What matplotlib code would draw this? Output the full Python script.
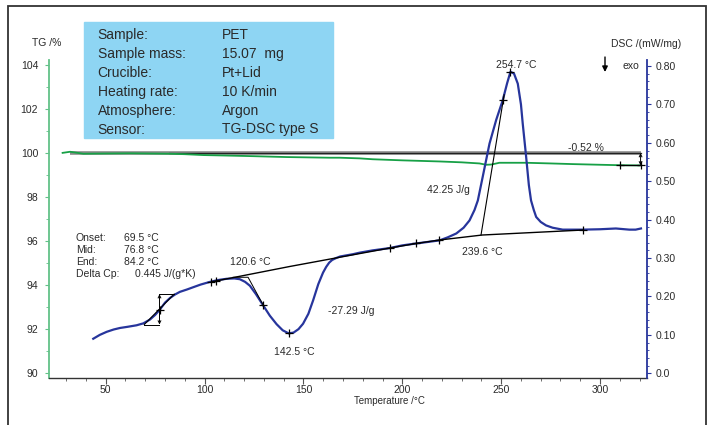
import matplotlib
matplotlib.use("Agg")
import matplotlib.pyplot as plt
from matplotlib.patches import Rectangle
from matplotlib.ticker import MultipleLocator

plt.rcParams['font.family'] = ['Liberation Sans', 'DejaVu Sans']

# --- data ---
dsc_temp = [43.7, 47, 50.5, 54, 57.2, 61, 65.6, 69, 72.4, 75, 77.4, 80, 82.5, 85, 87.5,
            91, 94.2, 98, 102.7, 107, 111.1, 115, 117.8, 120.5, 122.9, 126, 129.6, 133,
            136.4, 139.5, 142.5, 145, 147.5, 149.8, 152.5, 154.9, 157.5, 159.9, 161.5,
            163, 164.5, 166.5, 168.5, 171.7, 175, 178.4, 185, 193.6, 200, 207, 213, 218.8,
            223, 227.3, 231, 234, 236.5, 238.2, 241, 244.1, 247.5, 250.8, 253, 254.7,
            256.5, 258.4, 260, 260.9, 262.5, 264, 265.1, 266.5, 267.7, 270, 272.7, 276,
            281.1, 291.2, 300, 308, 314.8, 318, 320.7]
dsc_val = [0.090, 0.100, 0.108, 0.114, 0.118, 0.121, 0.125, 0.130, 0.140, 0.152, 0.166,
           0.184, 0.196, 0.205, 0.212, 0.218, 0.224, 0.231, 0.238, 0.243, 0.246, 0.247,
           0.245, 0.238, 0.228, 0.206, 0.177, 0.150, 0.128, 0.112, 0.104, 0.106, 0.115,
           0.129, 0.155, 0.190, 0.232, 0.262, 0.277, 0.288, 0.295, 0.300, 0.304, 0.307,
           0.310, 0.314, 0.320, 0.326, 0.333, 0.338, 0.342, 0.346, 0.354, 0.364, 0.379,
           0.398, 0.425, 0.450, 0.520, 0.598, 0.660, 0.711, 0.755, 0.785, 0.780, 0.754,
           0.700, 0.650, 0.570, 0.490, 0.450, 0.425, 0.407, 0.394, 0.385, 0.379, 0.374,
           0.374, 0.375, 0.377, 0.374, 0.374, 0.377]

tg_temp = [28.2, 32, 35, 38.7, 50, 62.3, 72, 82.5, 90, 99.3, 110, 124.5, 141.4, 163.3,
           168.3, 178.4, 185, 200, 218.8, 230, 239, 242.4, 245, 249.1, 262.6, 275, 286.2,
           300, 309.8, 319.9]
tg_val = [100.01, 100.06, 100.02, 99.97, 99.98, 99.99, 99.98, 99.97, 99.95, 99.91, 99.89,
          99.86, 99.82, 99.79, 99.79, 99.76, 99.72, 99.67, 99.62, 99.58, 99.53, 99.47,
          99.48, 99.56, 99.56, 99.53, 99.50, 99.47, 99.45, 99.44]

# evaluation baselines / tangents (DSC)
base_temp = [103.4, 143, 183, 193.6, 207, 218.8, 240.4, 291.5]
base_val = [0.238, 0.278, 0.316, 0.326, 0.338, 0.347, 0.360, 0.373]
cryst_tan_temp = [114.4, 122, 129.6]
cryst_tan_val = [0.250, 0.250, 0.178]
melt_tan_temp = [239.8, 251.5]
melt_tan_val = [0.360, 0.725]
glass_low = [69.5, 77.2, 0.127]
glass_high = [77.2, 84.6, 0.206]
glass_tan_temp = [69.5, 84.6]
glass_tan_val = [0.127, 0.206]

dsc_marks_t = [77.3, 103.4, 105.7, 129.6, 142.6, 193.6, 207, 218.8, 250.8, 254.7, 291.5]
dsc_marks_v = [0.166, 0.238, 0.241, 0.177, 0.104, 0.326, 0.338, 0.346, 0.711, 0.785, 0.373]
tg_marks_t = [310, 320.5]
tg_marks_v = [99.44, 99.44]

info_labels = ["Sample:", "Sample mass:", "Crucible:", "Heating rate:", "Atmosphere:", "Sensor:"]
info_values = ["PET", "15.07  mg", "Pt+Lid", "10 K/min", "Argon", "TG-DSC type S"]
gt_labels = ["Onset:", "Mid:", "End:", "Delta Cp:"]
gt_values = ["69.5 °C", "76.8 °C", "84.2 °C", "0.445 J/(g*K)"]

W, H = 709, 425
GREEN = "#17a046"
BLUE = "#27359c"
TXT = "#2a2a2a"


def px(x, y):
    """pixel position (from top-left) -> figure fraction"""
    return x / W, 1 - y / H


fig = plt.figure(figsize=(W / 100, H / 100), dpi=100)
l, b = px(49.3, 378.3)
r, t = px(647.3, 60)
ax = fig.add_axes([l, b, r - l, t - b])
ax2 = ax.twinx()
ax.patch.set_visible(False)
ax2.patch.set_visible(False)

# outer frame
fig.add_artist(Rectangle(px(8, 440), (706 - 8) / W, (440 - 6) / H,
                         transform=fig.transFigure, fill=False, lw=1.3, ec="#333333"))

# TG axis
ax.set_xlim(21.47, 323.9)
ax.set_ylim(89.773, 104.227)
ax.yaxis.set_major_locator(MultipleLocator(2))
ax.yaxis.set_minor_locator(MultipleLocator(1))
ax.xaxis.set_major_locator(MultipleLocator(50))
ax.xaxis.set_minor_locator(MultipleLocator(10))
for s in ["top", "right"]:
    ax.spines[s].set_visible(False)
ax.spines["left"].set_color("#62c288")
ax.spines["left"].set_linewidth(1.3)
ax.spines["bottom"].set_color("#333333")
ax.spines["bottom"].set_linewidth(1.0)
ax.tick_params(axis="y", which="both", direction="out", colors="#62c288",
               labelcolor=TXT, labelsize=7.5, pad=5)
ax.tick_params(axis="y", which="major", length=3)
ax.tick_params(axis="y", which="minor", length=2)
ax.tick_params(axis="x", which="major", length=4, labelsize=7.5, colors="#555555",
               labelcolor=TXT, pad=1)
ax.tick_params(axis="x", which="minor", length=2.5, colors="#555555")

# DSC axis
ax2.set_ylim(-0.0130, 0.8156)
ax2.yaxis.set_minor_locator(MultipleLocator(0.02))
for s in ["top", "left", "bottom"]:
    ax2.spines[s].set_visible(False)
ax2.spines["right"].set_color(BLUE)
ax2.spines["right"].set_linewidth(1.3)
ax2.tick_params(axis="y", which="both", direction="out", colors=BLUE,
                labelcolor=TXT, labelsize=7.5, pad=3)
ax2.tick_params(axis="y", which="major", length=3)
ax2.tick_params(axis="y", which="minor", length=1.5)
ax2.set_yticks([0.0] + [round(0.1 * i, 1) for i in range(1, 9)])
ax2.set_yticklabels(["0.0"] + ["%.2f" % (0.1 * i) for i in range(1, 9)])

# TG curve and mass step
ax.plot([32, 320.5], [100, 100], color="#8a8a8a", lw=2.6, solid_capstyle="butt")
ax.plot([82, 320.5], [100, 100], color="#222222", lw=0.9)
ax.plot(tg_temp, tg_val, color=GREEN, lw=1.3)
ax.plot([310, 320.5], [99.44, 99.44], color="black", lw=0.9)
ax.plot(tg_marks_t, tg_marks_v, "k+", ms=6, mew=0.9)
ax.annotate("", xy=(320.5, 99.44), xytext=(320.5, 100.0),
            arrowprops=dict(arrowstyle="<->", lw=0.7, color="black",
                            mutation_scale=5, shrinkA=0, shrinkB=0))

# DSC curve and evaluations
ax2.plot(dsc_temp, dsc_val, color=BLUE, lw=1.6, zorder=3)
ax2.plot(base_temp, base_val, color="black", lw=1.0, zorder=4)
ax2.plot(cryst_tan_temp, cryst_tan_val, color="black", lw=0.7, zorder=4)
ax2.plot(melt_tan_temp, melt_tan_val, color="black", lw=0.8, zorder=4)
ax2.plot(glass_low[:2], [glass_low[2]] * 2, color="black", lw=0.7, zorder=4)
ax2.plot(glass_high[:2], [glass_high[2]] * 2, color="black", lw=0.7, zorder=4)
ax2.plot(glass_tan_temp, glass_tan_val, color="black", lw=0.8, zorder=4)
ax2.annotate("", xy=(77.2, glass_low[2]), xytext=(77.2, glass_high[2]),
             arrowprops=dict(arrowstyle="<->", lw=0.7, color="black",
                             mutation_scale=5, shrinkA=0, shrinkB=0))
ax2.plot(dsc_marks_t, dsc_marks_v, "k+", ms=6, mew=0.9, zorder=5)

fs = 7.5
ax2.text(257.5, 0.803, "254.7 °C", ha="center", va="center", fontsize=fs, color=TXT)
ax2.text(292.9, 0.587, "-0.52 %", ha="center", va="center", fontsize=fs, color=TXT)
ax2.text(223.1, 0.477, "42.25 J/g", ha="center", va="center", fontsize=fs, color=TXT)
ax2.text(240.3, 0.316, "239.6 °C", ha="center", va="center", fontsize=fs, color=TXT)
ax2.text(174.1, 0.162, "-27.29 J/g", ha="center", va="center", fontsize=fs, color=TXT)
ax2.text(145.2, 0.055, "142.5 °C", ha="center", va="center", fontsize=fs, color=TXT)
ax2.text(123.0, 0.290, "120.6 °C", ha="center", va="center", fontsize=fs, color=TXT)

# glass transition result block
for i, (lab, val) in enumerate(zip(gt_labels, gt_values)):
    y = 238 + 12 * i
    fig.text(*px(76, y), lab, ha="left", va="center", fontsize=fs, color=TXT)
    fig.text(*px(135 if i == 3 else 124.3, y), val, ha="left", va="center",
             fontsize=fs, color=TXT)

# axis titles
fig.text(*px(47, 43.5), "TG /%", ha="center", va="center", fontsize=fs, color=TXT)
fig.text(*px(646, 44), "DSC /(mW/mg)", ha="center", va="center", fontsize=fs, color=TXT)
fig.text(*px(631, 66), "exo", ha="center", va="center", fontsize=fs, color=TXT)
fig.text(*px(389, 401), "Temperature /°C", ha="center", va="center", fontsize=7, color=TXT)
fig.add_artist(plt.Annotation("", xy=px(605, 72), xytext=px(605, 57),
                              xycoords="figure fraction", textcoords="figure fraction",
                              arrowprops=dict(arrowstyle="-|>", lw=1.0, color="black",
                                              mutation_scale=8, shrinkA=0, shrinkB=0)))

# info box
bx, by = px(84.3, 138.3)
fig.add_artist(Rectangle((bx, by), (333.3 - 84.3) / W, (138.3 - 22) / H,
                         transform=fig.transFigure, color="#8ed5f3", zorder=0))
for i, (lab, val) in enumerate(zip(info_labels, info_values)):
    y = 35 + 18.9 * i
    fig.text(*px(97.7, y), lab, ha="left", va="center", fontsize=10, color=TXT)
    fig.text(*px(222, y), val, ha="left", va="center", fontsize=10, color=TXT)

fig.savefig("out.png", dpi=100)
